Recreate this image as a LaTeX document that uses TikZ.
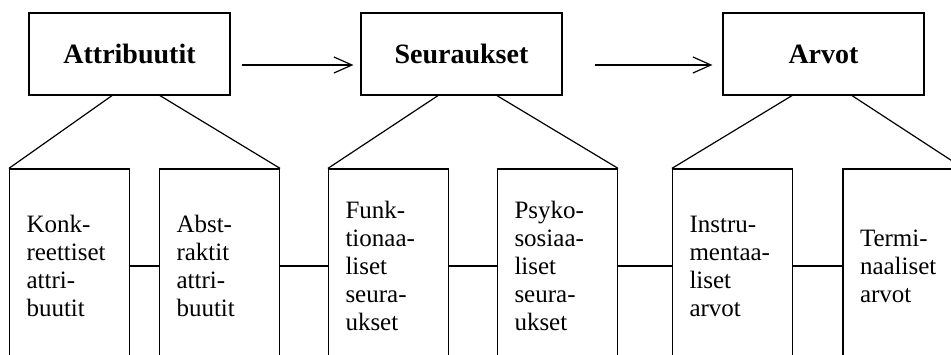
\documentclass[tikz,border=0pt]{standalone}
\usepackage{fontspec}
\setmainfont{Liberation Serif}
\usetikzlibrary{arrows.meta}

\begin{document}
\begin{tikzpicture}[x=0.5pt,y=-0.5pt,
  head/.style={draw,line width=.6pt,minimum width=100.5pt,minimum height=41pt,font=\bfseries\fontsize{14}{16}\selectfont},
  sub/.style={draw,line width=.6pt,minimum width=60pt,minimum height=97pt,text width=43pt,inner xsep=8.5pt,align=left,font=\fontsize{12.5}{14}\selectfont},
  link/.style={line width=.6pt},
  flow/.style={line width=.6pt,-{Straight Barb[length=9pt,width=8pt]}}
]
  \clip (0,0) rectangle (951,354);
  \node[head] (attr) at (129.5,54) {Attribuutit};
  \node[head] (seur) at (461.5,54) {Seuraukset};
  \node[head] (arvot) at (823.5,54) {Arvot};
  \node[sub] (konk) at (69.5,266) {Konk-\\reettiset\\attri-\\buutit};
  \node[sub] (abst) at (219.5,266) {Abst-\\raktit\\attri-\\buutit};
  \node[sub] (funk) at (388.5,266) {Funk-\\tionaa-\\liset\\seura-\\ukset};
  \node[sub] (psyko) at (557.5,266) {Psyko-\\sosiaa-\\liset\\seura-\\ukset};
  \node[sub] (instru) at (732.5,266) {Instru-\\mentaa-\\liset\\arvot};
  \node[sub] (termi) at (903,266) {Termi-\\naaliset\\arvot};
  \draw[flow] ([xshift=5.5pt,yshift=-5.5pt]attr.east) -- ([xshift=-3.5pt,yshift=-5.5pt]seur.west);
  \draw[flow] ([xshift=16pt,yshift=-5.5pt]seur.east) -- ([xshift=-5pt,yshift=-5.5pt]arvot.west);
  \draw[link] ([xshift=-8.75pt]attr.south) -- (konk.north west);
  \draw[link] ([xshift=15.25pt]attr.south) -- (abst.north east);
  \draw[link] ([xshift=-11.75pt]seur.south) -- (funk.north west);
  \draw[link] ([xshift=17.75pt]seur.south) -- (psyko.north east);
  \draw[link] ([xshift=-15.75pt]arvot.south) -- (instru.north west);
  \draw[link] ([xshift=14.25pt]arvot.south) -- (termi.north east);
  \draw[link] (konk) -- (abst);
  \draw[link] (abst) -- (funk);
  \draw[link] (funk) -- (psyko);
  \draw[link] (psyko) -- (instru);
  \draw[link] (instru) -- (termi);
\end{tikzpicture}
\end{document}
